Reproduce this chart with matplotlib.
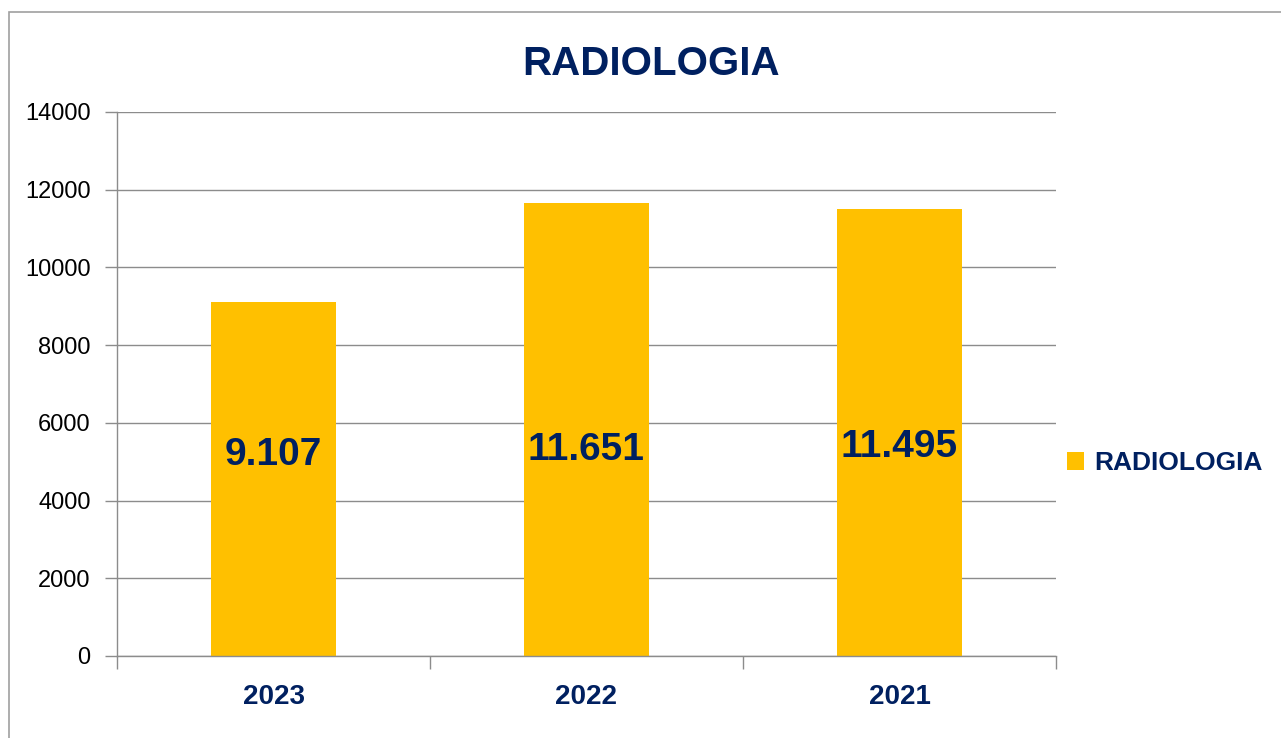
import matplotlib.pyplot as plt
from matplotlib.patches import Rectangle

# ---- data ----
years = ["2023", "2022", "2021"]
values = [9107, 11651, 11495]
series_name = "RADIOLOGIA"
y_ticks = [0, 2000, 4000, 6000, 8000, 10000, 12000, 14000]

# label heights (data units) as placed in the original
label_y = [5170, 5300, 5380]

NAVY = "#002060"
GOLD = "#FFC000"
GRID = "#8C8C8C"

plt.rcParams["font.family"] = ["Liberation Sans", "DejaVu Sans"]

fig = plt.figure(figsize=(12.81, 7.38), dpi=100)
W, H = 1281, 738

# outer chart border
fig.patches.append(Rectangle((9 / W, -0.05), 1.2, (738 - 12) / H + 0.05,
                             transform=fig.transFigure, fill=False,
                             edgecolor="#A0A0A0", linewidth=1.2))

ax = fig.add_axes([117 / W, (H - 656) / H, 939 / W, 544 / H])

x = range(len(years))
ax.bar(x, values, width=0.4, color=GOLD, zorder=2, label=series_name)

for xi, v, ly in zip(x, values, label_y):
    ax.text(xi, ly, f"{v:,}".replace(",", "."), ha="center", va="center",
            fontsize=28, fontweight="bold", color=NAVY, zorder=3)

ax.set_xlim(-0.5, 2.5)
ax.set_ylim(0, 14000)
ax.set_yticks(y_ticks)
ax.set_yticklabels([str(t) for t in y_ticks], fontsize=17, color="black")
ax.grid(axis="y", color=GRID, linewidth=1.0, zorder=0)

# categories labelled, ticks at category boundaries
ax.set_xticks([-0.5, 0.5, 1.5, 2.5])
ax.set_xticklabels([])
ax.set_xticks(list(x), minor=True)
ax.set_xticklabels(years, minor=True, fontsize=20, fontweight="bold", color=NAVY)
ax.tick_params(axis="x", which="minor", length=0, pad=20)
ax.tick_params(axis="x", which="major", length=9, color=GRID, width=1)
ax.tick_params(axis="y", length=9, color=GRID, width=1, pad=10)

for s in ["top", "right"]:
    ax.spines[s].set_visible(False)
for s in ["left", "bottom"]:
    ax.spines[s].set_color(GRID)
    ax.spines[s].set_linewidth(1)

fig.text(651 / W, 1 - 64 / H, "RADIOLOGIA", ha="center", va="center",
         fontsize=29, fontweight="bold", color=NAVY)

leg = ax.legend(loc="center left", bbox_to_anchor=(1.0, 1 - (463 - 112) / 544),
                frameon=False, fontsize=19, handlelength=0.65, handleheight=0.65,
                handletextpad=0.4, borderaxespad=0.1, borderpad=0.3)
for t in leg.get_texts():
    t.set_color(NAVY)
    t.set_fontweight("bold")

fig.savefig("out.png", dpi=100)
